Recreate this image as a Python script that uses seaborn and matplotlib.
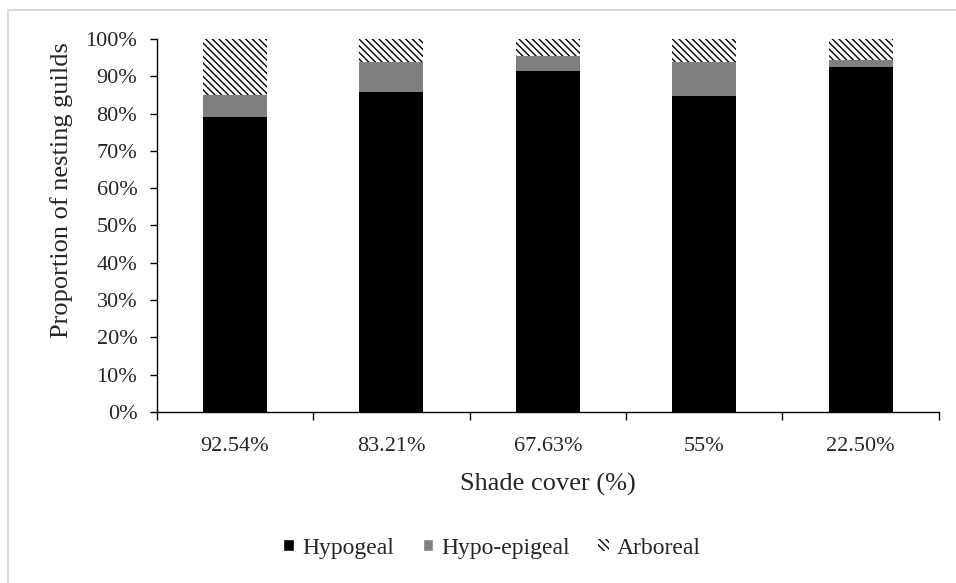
import matplotlib
matplotlib.use("Agg")
import matplotlib.pyplot as plt
import matplotlib.patches as mpatches
import matplotlib.lines as mlines
from matplotlib.ticker import PercentFormatter
import numpy as np
import pandas as pd
import seaborn as sns

# data (percent of nesting guilds per shade cover)
shade = ["92.54%", "83.21%", "67.63%", "55%", "22.50%"]
hypogeal = [79.0, 85.7, 91.5, 84.8, 92.5]
hypo_epigeal = [6.0, 8.2, 4.0, 9.0, 1.8]
arboreal = [15.0, 6.1, 4.5, 6.2, 5.7]

sns.set_theme(style="white")
plt.rcParams["font.family"] = ["Liberation Serif", "DejaVu Serif"]
plt.rcParams["hatch.linewidth"] = 1.0

df = pd.DataFrame({"shade": shade, "hyp": hypogeal, "he": hypo_epigeal, "arb": arboreal})
df["top2"] = df["hyp"] + df["he"]
df["top3"] = df["top2"] + df["arb"]

fig = plt.figure(figsize=(9.56, 5.83), dpi=100)
ax = fig.add_axes([0.164, 0.2933, 0.818, 0.64])

# stacked bars drawn from the tallest layer down
sns.barplot(data=df, x="shade", y="top3", order=shade, color="white", width=0.41,
            saturation=1, ax=ax, edgecolor="black", linewidth=0, hatch="\\\\\\\\\\")
sns.barplot(data=df, x="shade", y="top2", order=shade, color="#808080", width=0.41,
            saturation=1, ax=ax, linewidth=0)
sns.barplot(data=df, x="shade", y="hyp", order=shade, color="black", width=0.41,
            saturation=1, ax=ax, linewidth=0)

ax.set_ylim(0, 100)
ax.set_xlim(-0.5, len(shade) - 0.5)
ax.set_yticks(np.arange(0, 101, 10))
ax.yaxis.set_major_formatter(PercentFormatter(decimals=0))
ax.set_xticks(range(len(shade)))
ax.set_xticklabels(shade)
ax.set_xticks(np.arange(-0.5, len(shade), 1), minor=True)

for s in ["top", "right"]:
    ax.spines[s].set_visible(False)
for s in ["left", "bottom"]:
    ax.spines[s].set_color("black")
    ax.spines[s].set_linewidth(1)

ax.tick_params(axis="y", which="major", direction="out", length=5, width=1,
               color="black", left=True, labelsize=16, pad=9)
ax.tick_params(axis="x", which="major", length=0, labelsize=16, pad=18)
ax.tick_params(axis="x", which="minor", direction="out", length=6, width=1,
               color="black", bottom=True)

ax.set_xlabel("Shade cover (%)", fontsize=19, labelpad=12)
ax.set_ylabel("Proportion of nesting guilds", fontsize=19)
ax.yaxis.set_label_coords(-0.107, 0.595)

handles = [
    mpatches.Patch(facecolor="black", label="Hypogeal"),
    mpatches.Patch(facecolor="#808080", label="Hypo-epigeal"),
    mpatches.Patch(facecolor="white", edgecolor="black", linewidth=0,
                   hatch="\\\\\\\\\\", label="Arboreal"),
]
fig.legend(handles=handles, loc="center", bbox_to_anchor=(0.515, 0.06), ncol=3,
           frameon=False, fontsize=17, handlelength=0.45, handleheight=0.45,
           handletextpad=0.35, columnspacing=1.2)

# light frame edges (left and top visible in the original crop)
fig.lines.append(mlines.Line2D([8 / 956, 8 / 956], [0, 1 - 10 / 583], transform=fig.transFigure,
                               color="#d9d9d9", linewidth=1.5))
fig.lines.append(mlines.Line2D([8 / 956, 1], [1 - 10 / 583, 1 - 10 / 583], transform=fig.transFigure,
                               color="#d9d9d9", linewidth=1.5))

fig.savefig("out.png", dpi=100)
